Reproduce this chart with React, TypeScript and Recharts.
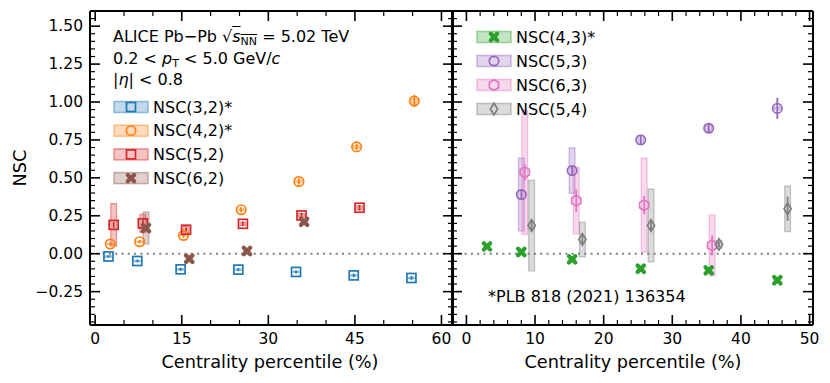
import React from 'react';
import { ScatterChart, Scatter, XAxis, YAxis, ErrorBar, ReferenceArea, ReferenceLine } from 'recharts';

// centrality positions (bin centre with a small per-harmonic offset), value, stat. err, syst. err
const nsc32X = [2.3, 7.3, 14.8, 24.8, 34.8, 44.8, 54.8];
const nsc32Y = [-0.018, -0.048, -0.103, -0.105, -0.12, -0.143, -0.16];
const nsc32Stat = [0.008, 0.008, 0.01, 0.01, 0.01, 0.012, 0.012];
const nsc32Sys = [0.004, 0.004, 0.004, 0.004, 0.004, 0.004, 0.004];

const nsc42X = [2.6, 7.7, 15.3, 25.3, 35.3, 45.3, 55.3];
const nsc42Y = [0.064, 0.079, 0.12, 0.29, 0.476, 0.704, 1.007];
const nsc42Stat = [0.012, 0.012, 0.015, 0.018, 0.02, 0.02, 0.04];
const nsc42Sys = [0.004, 0.004, 0.005, 0.006, 0.008, 0.01, 0.015];

const nsc52X = [3.2, 8.25, 15.75, 25.6, 35.75, 45.8];
const nsc52Y = [0.19, 0.2, 0.158, 0.197, 0.252, 0.303];
const nsc52Stat = [0.02, 0.02, 0.015, 0.015, 0.018, 0.018];
const nsc52Sys = [0.14, 0.06, 0.022, 0.01, 0.012, 0.012];

const nsc62X = [8.8, 16.3, 26.3, 36.2];
const nsc62Y = [0.169, -0.033, 0.018, 0.21];
const nsc62Stat = [0.02, 0.02, 0.02, 0.02];
const nsc62Sys = [0.105, 0.01, 0.01, 0.01];

const nsc43X = [3.0, 8.0, 15.4, 25.4, 35.3, 45.3];
const nsc43Y = [0.048, 0.011, -0.037, -0.099, -0.11, -0.175];
const nsc43Stat = [0.01, 0.01, 0.01, 0.01, 0.012, 0.015];
const nsc43Sys = [0.004, 0.004, 0.004, 0.004, 0.004, 0.004];

const nsc53X = [8.0, 15.4, 25.4, 35.3, 45.3];
const nsc53Y = [0.39, 0.548, 0.75, 0.827, 0.958];
const nsc53Stat = [0.03, 0.03, 0.03, 0.03, 0.07];
const nsc53Sys = [0.24, 0.15, 0.03, 0.02, 0.01];

const nsc63X = [8.5, 16.0, 25.9, 35.8];
const nsc63Y = [0.537, 0.35, 0.32, 0.055];
const nsc63Stat = [0.055, 0.075, 0.06, 0.066];
const nsc63Sys = [0.41, 0.22, 0.31, 0.2];

const nsc54X = [9.5, 16.9, 26.9, 36.8, 46.8];
const nsc54Y = [0.186, 0.094, 0.186, 0.061, 0.296];
const nsc54Stat = [0.03, 0.03, 0.03, 0.02, 0.08];
const nsc54Sys = [0.3, 0.115, 0.24, 0.025, 0.15];

const leftXMajor = [0, 15, 30, 45, 60];
const rightXMajor = [0, 10, 20, 30, 40, 50];
const yMajor = [-0.25, 0, 0.25, 0.5, 0.75, 1.0, 1.25, 1.5];

const range = (a: number, b: number, s: number) => {
  const out: number[] = [];
  for (let v = a; v <= b + 1e-9; v += s) out.push(Math.round(v * 1000) / 1000);
  return out;
};
// minor ticks in between the labelled ones
const leftXTicks = range(0, 60, 5);
const rightXTicks = range(0, 50, 2);
const yTicks = range(-0.45, 1.6, 0.05);

type Kind = 'square' | 'circle' | 'cross' | 'hex' | 'diamond';
type Series = { name: string; color: string; kind: Kind; x: number[]; y: number[]; stat: number[]; sys: number[] };

const leftSeries: Series[] = [
  { name: 'NSC(3,2)*', color: '#1f77b4', kind: 'square', x: nsc32X, y: nsc32Y, stat: nsc32Stat, sys: nsc32Sys },
  { name: 'NSC(4,2)*', color: '#ff7f0e', kind: 'circle', x: nsc42X, y: nsc42Y, stat: nsc42Stat, sys: nsc42Sys },
  { name: 'NSC(5,2)', color: '#d62728', kind: 'square', x: nsc52X, y: nsc52Y, stat: nsc52Stat, sys: nsc52Sys },
  { name: 'NSC(6,2)', color: '#8c564b', kind: 'cross', x: nsc62X, y: nsc62Y, stat: nsc62Stat, sys: nsc62Sys },
];
const rightSeries: Series[] = [
  { name: 'NSC(4,3)*', color: '#2ca02c', kind: 'cross', x: nsc43X, y: nsc43Y, stat: nsc43Stat, sys: nsc43Sys },
  { name: 'NSC(5,3)', color: '#9467bd', kind: 'circle', x: nsc53X, y: nsc53Y, stat: nsc53Stat, sys: nsc53Sys },
  { name: 'NSC(6,3)', color: '#e377c2', kind: 'hex', x: nsc63X, y: nsc63Y, stat: nsc63Stat, sys: nsc63Sys },
  { name: 'NSC(5,4)', color: '#7f7f7f', kind: 'diamond', x: nsc54X, y: nsc54Y, stat: nsc54Stat, sys: nsc54Sys },
];

const toData = (s: Series) => s.x.map((x, i) => ({ x, y: s.y[i], stat: s.stat[i], sys: s.sys[i] }));

const FONT = 'DejaVu Sans, sans-serif';

const Marker = ({ kind, cx, cy, color }: { kind: Kind; cx: number; cy: number; color: string }) => {
  if (kind === 'square')
    return <rect x={cx - 4.5} y={cy - 4.5} width={9} height={9} fill="none" stroke={color} strokeWidth={1.7} />;
  if (kind === 'circle') return <circle cx={cx} cy={cy} r={4.7} fill="none" stroke={color} strokeWidth={1.7} />;
  if (kind === 'hex') {
    const pts = [0, 1, 2, 3, 4, 5]
      .map((k) => {
        const a = (Math.PI / 3) * k - Math.PI / 2;
        return `${cx + 5.3 * Math.cos(a)},${cy + 5.3 * Math.sin(a)}`;
      })
      .join(' ');
    return <polygon points={pts} fill="none" stroke={color} strokeWidth={1.7} />;
  }
  if (kind === 'diamond')
    return (
      <polygon
        points={`${cx},${cy - 5.8} ${cx + 3.6},${cy} ${cx},${cy + 5.8} ${cx - 3.6},${cy}`}
        fill="none"
        stroke={color}
        strokeWidth={1.7}
      />
    );
  return (
    <g stroke={color} strokeWidth={4.2} strokeLinecap="round">
      <line x1={cx - 3.2} y1={cy - 3.2} x2={cx + 3.2} y2={cy + 3.2} />
      <line x1={cx - 3.2} y1={cy + 3.2} x2={cx + 3.2} y2={cy - 3.2} />
    </g>
  );
};

const near = (v: number, step: number) => Math.abs(v / step - Math.round(v / step)) < 1e-6;

const makeTick = (side: 'bottom' | 'top' | 'left' | 'right', step: number, labels: boolean, fmt: (v: number) => string) =>
  (p: any) => {
    const v = p.payload.value;
    const major = near(v, step);
    const len = major ? 10 : 5;
    const { x, y } = p;
    let line = null;
    if (side === 'bottom') line = <line x1={x} y1={y} x2={x} y2={y - len} />;
    if (side === 'top') line = <line x1={x} y1={y} x2={x} y2={y + len} />;
    if (side === 'left') line = <line x1={x} y1={y} x2={x + len} y2={y} />;
    if (side === 'right') line = <line x1={x} y1={y} x2={x - len} y2={y} />;
    return (
      <g>
        <g stroke="#000" strokeWidth={major ? 1.6 : 1.2}>{line}</g>
        {labels && major && side === 'bottom' && (
          <text x={x} y={y + 14} textAnchor="middle" dominantBaseline="central" fontSize={15.5} fontFamily={FONT} fill="#000">
            {fmt(v)}
          </text>
        )}
        {labels && major && side === 'left' && (
          <text x={x - 7} y={y} textAnchor="end" dominantBaseline="central" fontSize={15.5} fontFamily={FONT} fill="#000">
            {fmt(v)}
          </text>
        )}
      </g>
    );
  };

const fmtX = (v: number) => String(v);
const fmtY = (v: number) => v.toFixed(2).replace('-', '\u2212');
const axisLine = { stroke: '#000', strokeWidth: 2 };

const Panel = ({
  series, xDomain, xTicks, xStep, halfW, showYLabels, width, left, margin,
}: {
  series: Series[]; xDomain: [number, number]; xTicks: number[]; xStep: number; halfW: number;
  showYLabels: boolean; width: number; left: number; margin: { top: number; right: number; bottom: number; left: number };
}) => (
  <div style={{ position: 'absolute', left, top: 0 }}>
    <ScatterChart width={width} height={383} margin={margin}>
      <XAxis xAxisId="b" type="number" dataKey="x" domain={xDomain} ticks={xTicks} interval={0} allowDataOverflow
        height={30} tickSize={0} tickMargin={0} tickLine={false} axisLine={axisLine}
        tick={makeTick('bottom', xStep, true, fmtX)} />
      <XAxis xAxisId="t" orientation="top" type="number" dataKey="x" domain={xDomain} ticks={xTicks} interval={0} allowDataOverflow
        height={1} tickSize={0} tickMargin={0} tickLine={false} axisLine={axisLine}
        tick={makeTick('top', xStep, false, fmtX)} />
      <YAxis yAxisId="l" type="number" dataKey="y" domain={[-0.47, 1.6]} ticks={yTicks} interval={0} allowDataOverflow
        width={showYLabels ? 60 : 1} tickSize={0} tickMargin={0} tickLine={false} axisLine={axisLine}
        tick={makeTick('left', 0.25, showYLabels, fmtY)} />
      <YAxis yAxisId="r" orientation="right" type="number" dataKey="y" domain={[-0.47, 1.6]} ticks={yTicks} interval={0} allowDataOverflow
        width={1} tickSize={0} tickMargin={0} tickLine={false} axisLine={axisLine}
        tick={makeTick('right', 0.25, false, fmtY)} />
      {series.flatMap((s) =>
        toData(s).map((d, i) => (
          <ReferenceArea key={`${s.name}-box-${i}`} xAxisId="b" yAxisId="l"
            x1={d.x - halfW} x2={d.x + halfW} y1={d.y - d.sys} y2={d.y + d.sys}
            fill={s.color} fillOpacity={0.28} stroke={s.color} strokeOpacity={0.45} strokeWidth={1.2} ifOverflow="visible" />
        ))
      )}
      <ReferenceLine xAxisId="b" yAxisId="l" y={0} stroke="#7f7f7f" strokeWidth={2} strokeDasharray="2 4.3" />
      {series.map((s) => (
        <Scatter key={s.name} name={s.name} xAxisId="b" yAxisId="l" data={toData(s)} isAnimationActive={false}
          shape={(p: any) => <Marker kind={s.kind} cx={p.cx} cy={p.cy} color={s.color} />}>
          <ErrorBar dataKey="stat" direction="y" width={0} stroke={s.color} strokeWidth={1.8} isAnimationActive={false} />
        </Scatter>
      ))}
    </ScatterChart>
  </div>
);

const LegendRows = ({ series, x0, y0, gap }: { series: Series[]; x0: number; y0: number; gap: number }) => (
  <g>
    {series.map((s, i) => {
      const cy = y0 + i * gap;
      return (
        <g key={s.name}>
          <rect x={x0} y={cy - 5.5} width={34} height={11} fill={s.color} fillOpacity={0.28} stroke={s.color} strokeOpacity={0.45} strokeWidth={1.5} />
          <Marker kind={s.kind} cx={x0 + 17} cy={cy} color={s.color} />
          <text x={x0 + 39} y={cy} dominantBaseline="central" fontSize={16} fontFamily={FONT} fill="#000">
            {s.name}
          </text>
        </g>
      );
    })}
  </g>
);

const subStyle: React.CSSProperties = { fontSize: 11, verticalAlign: '-3px', lineHeight: 0 };

export default function App() {
  return (
    <div style={{ position: 'relative', width: 830, height: 383, fontFamily: FONT, background: '#fff' }}>
      <style>{'body{margin:0}'}</style>
      <Panel series={leftSeries} xDomain={[-0.9, 62]} xTicks={leftXTicks} xStep={15} halfW={0.5} showYLabels
        width={460} left={0} margin={{ top: 10, right: 6, bottom: 28, left: 30 }} />
      <Panel series={rightSeries} xDomain={[-2.1, 50.5]} xTicks={rightXTicks} xStep={10} halfW={0.42} showYLabels={false}
        width={390} left={440} margin={{ top: 10, right: 16, bottom: 28, left: 11 }} />
      <div style={{ position: 'absolute', left: 113, top: 26, fontSize: 16, lineHeight: '21.5px', whiteSpace: 'nowrap' }}>
        <div>
          ALICE Pb{'\u2212'}Pb {'\u221A'}
          <span style={{ textDecoration: 'overline' }}>
            <i>s</i>
            <span style={subStyle}>NN</span>
          </span>{' '}
          = 5.02 TeV
        </div>
        <div>
          0.2 &lt; <i>p</i>
          <span style={subStyle}>T</span> &lt; 5.0 GeV/<i>c</i>
        </div>
        <div>
          |<i>η</i>| &lt; 0.8
        </div>
      </div>
      <svg width={830} height={383} style={{ position: 'absolute', left: 0, top: 0, pointerEvents: 'none' }}>
        <LegendRows series={leftSeries} x0={114} y0={107} gap={23.7} />
        <LegendRows series={rightSeries} x0={477} y0={37} gap={24} />
        <text x={488} y={296} dominantBaseline="central" fontSize={16} fontFamily={FONT} fill="#000">
          *PLB 818 (2021) 136354
        </text>
        <text x={270} y={362} textAnchor="middle" dominantBaseline="central" fontSize={17.7} fontFamily={FONT} fill="#000">
          Centrality percentile (%)
        </text>
        <text x={633} y={362} textAnchor="middle" dominantBaseline="central" fontSize={17.7} fontFamily={FONT} fill="#000">
          Centrality percentile (%)
        </text>
        <text x={20} y={168} transform="rotate(-90 20 168)" textAnchor="middle" dominantBaseline="central" fontSize={17.7} fontFamily={FONT} fill="#000">
          NSC
        </text>
      </svg>
    </div>
  );
}
